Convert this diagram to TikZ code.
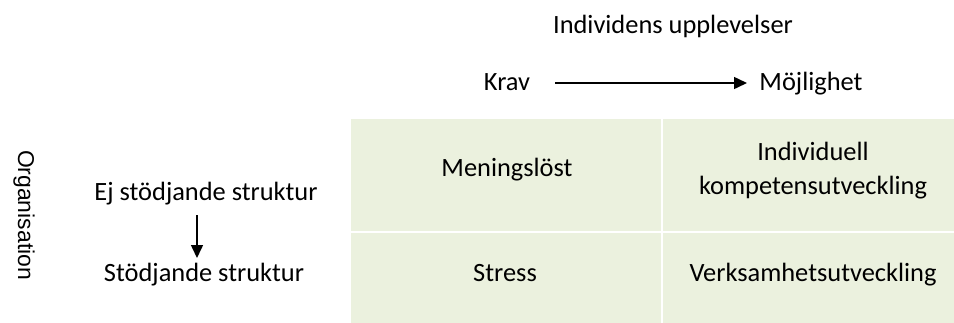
\documentclass[tikz,border=0pt]{standalone}
\usepackage{fontspec}
\setmainfont{Carlito}
\newfontfamily\orgfont{Liberation Sans}
\usetikzlibrary{arrows.meta}
\definecolor{cellgreen}{HTML}{EBF1DE}
\begin{document}
\begin{tikzpicture}[x=1bp,y=-1bp,
  lbl/.style={inner sep=0pt,anchor=base,font=\fontsize{26.5}{34}\selectfont,align=center},
  cell/.style={fill=cellgreen,draw=white,line width=2bp,inner sep=0pt,anchor=north west},
  arr/.style={-{Triangle[length=13bp,width=12bp]},line width=1.5bp}]
\useasboundingbox (0,0) rectangle (954,322);
% grid
\node[cell,minimum width=312bp,minimum height=114bp] (c11) at (349,117) {};
\node[cell,minimum width=295bp,minimum height=114bp] (c12) at (661,117) {};
\node[cell,minimum width=312bp,minimum height=93bp] (c21) at (349,231) {};
\node[cell,minimum width=295bp,minimum height=93bp] (c22) at (661,231) {};
% cell texts
\node[lbl] (t11) at (507,176) {Meningslöst};
\node[lbl] (t12a) at (813,160) {Individuell};
\node[lbl] (t12b) at (813,194) {kompetensutveckling};
\node[lbl] (t21) at (505,281) {Stress};
\node[lbl] (t22) at (813,281) {Verksamhetsutveckling};
% header
\node[lbl] (head) at (673,33) {Individens upplevelser};
\node[lbl] (krav) at (507,90) {Krav};
\node[lbl] (moj) at (811,90) {Möjlighet};
\coordinate (ka) at (555,83);
\coordinate (kb) at (747,83);
\draw[arr] (ka) -- (kb);
% left side
\node[lbl] (ej) at (206,200) {Ej stödjande struktur};
\node[lbl] (st) at (204,281) {Stödjande struktur};
\coordinate (va) at (197,215);
\coordinate (vb) at (197,258);
\draw[arr] (va) -- (vb);
\node[inner sep=0pt,rotate=-90,font=\orgfont\fontsize{23}{26}\selectfont] (org) at (24,215) {Organisation};
\end{tikzpicture}
\end{document}
